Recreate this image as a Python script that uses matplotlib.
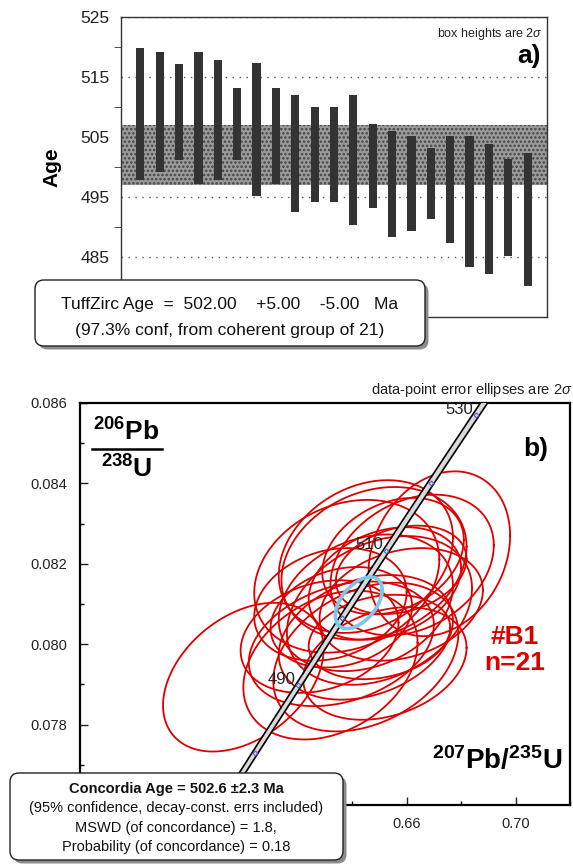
import numpy as np
import matplotlib
matplotlib.use('Agg')
import matplotlib.pyplot as plt
from matplotlib.patches import FancyBboxPatch
from matplotlib.ticker import MultipleLocator

plt.rcParams['font.family'] = 'Liberation Sans'
plt.rcParams['mathtext.fontset'] = 'custom'
plt.rcParams['mathtext.rm'] = 'Liberation Sans'
plt.rcParams['mathtext.it'] = 'Liberation Sans:italic'
plt.rcParams['mathtext.bf'] = 'Liberation Sans:bold'
plt.rcParams['hatch.linewidth'] = 1.2

# a) 206Pb/238U ages, 2 sigma boxes (Ma)
age_hi = [519.9, 519.1, 517.2, 519.1, 517.9, 513.1, 517.3, 513.1, 512.0, 510.0, 510.0,
          512.0, 507.1, 506.0, 505.2, 503.1, 505.1, 505.1, 503.9, 501.3, 502.3]
age_lo = [497.9, 499.2, 501.2, 497.2, 497.9, 501.2, 495.1, 497.2, 492.5, 494.1, 494.1,
          490.3, 493.1, 488.3, 489.3, 491.3, 487.3, 483.4, 482.2, 485.2, 480.2]
tz_age = 502.0
tz_plus = 5.0
tz_minus = 5.0

# b) data-point error ellipses (207/235, 206/238), half extents and correlation
ell_x = [0.672, 0.645, 0.655, 0.648, 0.662, 0.658, 0.638, 0.652, 0.645, 0.632, 0.658,
         0.650, 0.636, 0.645, 0.628, 0.650, 0.636, 0.645, 0.632, 0.652, 0.600]
ell_sx = [0.026, 0.032, 0.026, 0.034, 0.030, 0.024, 0.034, 0.028, 0.032, 0.028, 0.030,
          0.034, 0.026, 0.032, 0.029, 0.026, 0.034, 0.034, 0.032, 0.030, 0.0295]
ell_y = [0.08225, 0.08218, 0.08219, 0.08201, 0.08197, 0.08185, 0.08169, 0.08151, 0.08103,
         0.08099, 0.08099, 0.08084, 0.08067, 0.08017, 0.08019, 0.08018, 0.08001, 0.07968,
         0.07948, 0.07952, 0.07918]
ell_sy = [0.00205, 0.00190, 0.00145, 0.00190, 0.00175, 0.00110, 0.00190, 0.00140, 0.00170,
          0.00140, 0.00140, 0.00185, 0.00125, 0.00155, 0.00140, 0.00105, 0.00155, 0.00185,
          0.00185, 0.00140, 0.00185]
ell_rho = [0.22, 0.25, 0.28, 0.22, 0.28, 0.25, 0.22, 0.28, 0.25, 0.22, 0.25,
           0.30, 0.22, 0.28, 0.25, 0.22, 0.30, 0.32, 0.30, 0.28, 0.38]

# concordia age ellipse
conc_age = 502.6
conc_err = 2.3
cc_x, cc_y, cc_sx, cc_sy, cc_rho = 0.6424, 0.08103, 0.0086, 0.00064, 0.5

# concordia curve
L238 = 1.55125e-10
L235 = 9.8485e-10
tick_ages = [480, 490, 500, 510, 520, 530]
label_ages = [490, 510, 530]

W, H = 573, 865
fig = plt.figure(figsize=(W / 100, H / 100), dpi=100)


def px(x, y):
    return x / 100, (H - y) / 100


def rect(l, t, r, b):
    return [l / W, 1 - b / H, (r - l) / W, (b - t) / H]


def note_box(l, t, r, b):
    tr = fig.dpi_scale_trans
    x0, y0 = px(l, b)
    w, h = (r - l) / 100, (b - t) / 100
    sh = FancyBboxPatch((x0 + 0.035, y0 - 0.035), w, h, boxstyle='round,pad=0,rounding_size=0.09',
                        transform=tr, facecolor='#8c8c8c', edgecolor='none', zorder=5)
    bx = FancyBboxPatch((x0, y0), w, h, boxstyle='round,pad=0,rounding_size=0.09',
                        transform=tr, facecolor='white', edgecolor='#222222', lw=1.0, zorder=6)
    fig.patches.extend([sh, bx])


def ftext(x, y, s, **kw):
    fig.text(*px(x, y), s, transform=fig.dpi_scale_trans, zorder=7, **kw)


# ---------- panel a ----------
ax1 = fig.add_axes(rect(121, 17, 547, 317))
idx = np.arange(1, len(age_hi) + 1)
hi = np.array(age_hi)
lo = np.array(age_lo)
ax1.axhspan(tz_age - tz_minus, tz_age + tz_plus, facecolor='#9a9a9a', edgecolor='#444444',
            hatch='....', lw=0, zorder=1)
ax1.bar(idx, hi - lo, bottom=lo, width=0.42, color='#333333', zorder=2)
ax1.set_xlim(0, len(idx) + 1)
ax1.set_ylim(475, 525)
ax1.set_xticks([])
ax1.set_yticks([485, 495, 505, 515, 525])
ax1.set_yticks([490, 500, 510, 520], minor=True)
ax1.tick_params(axis='y', which='major', length=0, pad=8, labelsize=12.5, colors='#222222')
ax1.tick_params(axis='y', which='minor', length=5, direction='out', color='#333333')
ax1.yaxis.grid(True, which='major', linestyle=(0, (1, 4)), color='#555555', lw=1.0)
ax1.set_axisbelow(True)
for s in ax1.spines.values():
    s.set_color('#333333')
    s.set_linewidth(1.0)
ax1.set_ylabel('Age', fontsize=15, fontweight='bold', labelpad=14)
ax1.text(0.99, 0.97, r'box heights are 2$\sigma$', transform=ax1.transAxes, ha='right', va='top',
         fontsize=9, color='#222222')
ax1.text(0.985, 0.87, 'a)', transform=ax1.transAxes, ha='right', va='center',
         fontsize=19, fontweight='bold')

note_box(35, 280, 425, 346)
ftext(230, 305, f'TuffZirc Age  =  {tz_age:.2f}    +{tz_plus:.2f}    -{tz_minus:.2f}   Ma',
      ha='center', va='center', fontsize=12.5, color='#111111')
ftext(230, 331, f'(97.3% conf, from coherent group of {len(age_hi)})',
      ha='center', va='center', fontsize=12.5, color='#111111')

# ---------- panel b ----------
ax2 = fig.add_axes(rect(80, 403, 570, 805))
th = np.linspace(0, 2 * np.pi, 240)
for xc, sx, yc, sy, r in zip(ell_x, ell_sx, ell_y, ell_sy, ell_rho):
    ex = xc + sx * np.cos(th)
    ey = yc + sy * (r * np.cos(th) + np.sqrt(1 - r * r) * np.sin(th))
    ax2.plot(ex, ey, color='#dd0000', lw=1.3, zorder=2)

t = np.linspace(450e6, 550e6, 300)
cx = np.exp(L235 * t) - 1
cy = np.exp(L238 * t) - 1
dx = (1 + cx) * L235 * t * 0.0015
ax2.fill_betweenx(cy, cx - dx, cx + dx, color='#d9d9d9', lw=0, zorder=3)
ax2.plot(cx - dx, cy, color='black', lw=1.2, zorder=4)
ax2.plot(cx + dx, cy, color='black', lw=1.2, zorder=4)

ta = np.array(tick_ages) * 1e6
ax2.plot(np.exp(L235 * ta) - 1, np.exp(L238 * ta) - 1, 'D', ms=2.5, mfc='none',
         mec='#5a5ad0', mew=0.8, zorder=5)
for a in label_ages:
    ax2.annotate(str(a), (np.exp(L235 * a * 1e6) - 1, np.exp(L238 * a * 1e6) - 1),
                 xytext=(-3, 6), textcoords='offset pixels', ha='right', va='center',
                 fontsize=12, color='#222222', zorder=6)

ex = cc_x + cc_sx * np.cos(th)
ey = cc_y + cc_sy * (cc_rho * np.cos(th) + np.sqrt(1 - cc_rho ** 2) * np.sin(th))
ax2.plot(ex, ey, color='#7cc8ea', lw=2.6, zorder=7)

ax2.set_xlim(0.54, 0.72)
ax2.set_ylim(0.076, 0.086)
ax2.set_xticks([0.58, 0.62, 0.66, 0.70])
ax2.set_xticklabels(['', '', '0.66', '0.70'])  # first two sit under the result box
ax2.set_yticks([0.078, 0.080, 0.082, 0.084, 0.086])
ax2.xaxis.set_minor_locator(MultipleLocator(0.02))
ax2.yaxis.set_minor_locator(MultipleLocator(0.001))
ax2.yaxis.set_major_formatter(plt.FormatStrFormatter('%.3f'))
ax2.tick_params(which='major', direction='in', length=6, width=1.0, labelsize=10.5,
                colors='#222222', pad=9)
ax2.tick_params(which='minor', direction='in', length=3, width=1.0)
for s in ax2.spines.values():
    s.set_color('black')
    s.set_linewidth(1.6)

ax2.text(1.005, 1.01, r'data-point error ellipses are 2$\sigma$', transform=ax2.transAxes,
         ha='right', va='bottom', fontsize=10.5, color='#222222')
ax2.text(0.955, 0.885, 'b)', transform=ax2.transAxes, ha='right', va='center',
         fontsize=19, fontweight='bold')
ax2.text(0.95, 0.385, f'#B1\nn={len(ell_x)}', transform=ax2.transAxes, ha='right', va='center',
         fontsize=19, fontweight='bold', color='#dd0000', linespacing=1.1, multialignment='center')
ax2.text(0.985, 0.11, r'$^{\mathbf{207}}\mathbf{Pb/}^{\mathbf{235}}\mathbf{U}$', transform=ax2.transAxes,
         ha='right', va='center', fontsize=20)
ax2.text(0.094, 0.928, r'$^{\mathbf{206}}\mathbf{Pb}$', transform=ax2.transAxes,
         ha='center', va='center', fontsize=19)
ax2.text(0.096, 0.835, r'$^{\mathbf{238}}\mathbf{U}$', transform=ax2.transAxes,
         ha='center', va='center', fontsize=19)
ax2.plot([0.025, 0.168], [0.886, 0.886], transform=ax2.transAxes, color='black', lw=1.8,
         clip_on=False)

note_box(10, 773, 343, 860)
ftext(176, 789, f'Concordia Age = {conc_age} \u00b1{conc_err} Ma', ha='center', va='center',
      fontsize=10.5, fontweight='bold', color='#111111')
ftext(176, 808, '(95% confidence, decay-const. errs included)', ha='center', va='center',
      fontsize=10.5, color='#111111')
ftext(176, 828, 'MSWD (of concordance) = 1.8,', ha='center', va='center',
      fontsize=10.5, color='#111111')
ftext(176, 847, 'Probability (of concordance) = 0.18', ha='center', va='center',
      fontsize=10.5, color='#111111')

fig.savefig('out.png', dpi=100)
